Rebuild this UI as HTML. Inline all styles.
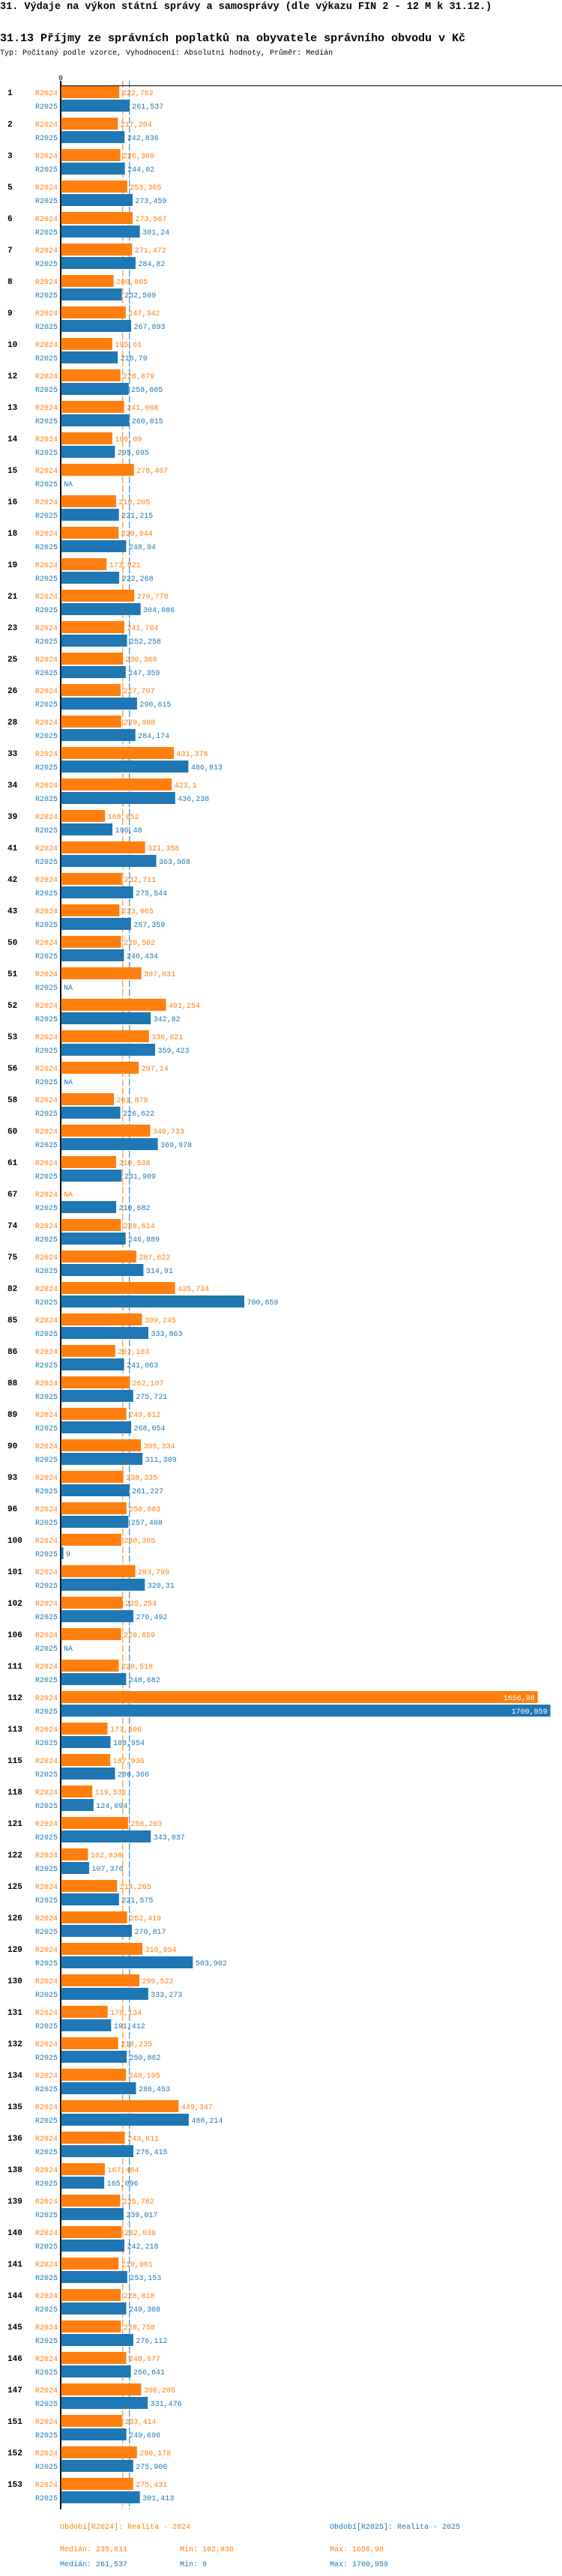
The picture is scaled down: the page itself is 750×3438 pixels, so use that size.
<!DOCTYPE html>
<html><head><meta charset="utf-8">
<style>
body{margin:0;background:#fff;width:750px;height:3438px;overflow:hidden;font-family:"Liberation Mono",monospace;}
h1,h2,p{margin:0;position:absolute;left:0;white-space:nowrap;}
</style></head><body>
<h1 style="top:2px;font-size:13.5px;font-weight:bold;">31. Výdaje na výkon státní správy a samosprávy (dle výkazu FIN 2 - 12 M k 31.12.)</h1>
<h2 style="top:43px;font-size:15px;font-weight:bold;">31.13 Příjmy ze správních poplatků na obyvatele správního obvodu v Kč</h2>
<p style="top:66px;font-size:10px;">Typ: Počítaný podle vzorce, Vyhodnocení: Absolutní hodnoty, Průměr: Medián</p>
<svg id="chart" width="750" height="3438" style="position:absolute;left:0;top:0" font-family="Liberation Mono, monospace"></svg>
<script>
const groups=[1,2,3,5,6,7,8,9,10,12,13,14,15,16,18,19,21,23,25,26,28,33,34,39,41,42,43,50,51,52,53,56,58,60,61,67,74,75,82,85,86,88,89,90,93,96,100,101,102,106,111,112,113,115,118,121,122,125,126,129,130,131,132,134,135,136,138,139,140,141,144,145,146,147,151,152,153];
const r2024=[222.762,217.204,226.309,253.365,273.567,271.472,200.805,247.342,195.61,226.679,241.008,196.09,278.407,210.205,220.044,173.921,279.778,241.704,236.368,227.707,229.908,431.378,423.1,168.052,321.358,232.711,223.065,229.502,307.031,401.254,336.021,297.14,201.878,340.733,210.538,null,228.614,287.622,435.734,309.245,207.103,262.107,249.812,305.334,238.335,250.083,230.395,283.799,235.254,229.659,220.518,1656.98,177.506,187.936,119.531,256.203,102.838,214.265,252.419,310.954,299.522,178.134,218.235,248.105,449.347,243.811,167.464,225.782,232.038,219.901,228.018,228.758,248.977,306.205,233.414,290.178,275.431];
const r2025=[261.537,242.836,244.02,273.459,301.24,284.82,232.509,267.893,216.79,258.605,260.015,205.695,null,221.215,248.94,222.268,304.086,252.258,247.359,290.615,284.174,486.813,436.238,196.48,363.968,275.544,267.359,240.434,null,342.82,359.423,null,226.622,369.978,231.909,210.682,246.889,314.91,700.659,333.863,241.063,275.721,268.054,311.309,261.227,257.408,9,320.31,276.492,null,248.682,1700.959,188.954,206.366,124.094,343.037,107.376,221.575,270.817,503.902,333.273,191.412,250.862,286.453,488.214,276.415,165.096,239.017,242.218,253.153,249.308,276.112,266.641,331.476,249.696,275.906,301.413];
const medians=[235.811,261.537];
const mins=[102.838,9];
const maxs=[1656.98,1700.959];
const periods=["Období[R2024]: Realita - 2024","Období[R2025]: Realita - 2025"];

const NS="http://www.w3.org/2000/svg";
const svg=document.getElementById('chart');
const X0=81.5,K=0.349,TOP=115,STEP=42,BH=16,XMAX=748;
const colors=["#ff7f0e","#1f77b4"];
const xs=v=>Math.min(XMAX,X0+v*K*(v>1000?1.1:1));
const ys=i=>TOP+i*STEP;
const fmt=v=>String(v).replace('.',',');
function mk(t,a,txt){const e=document.createElementNS(NS,t);for(const k in a)e.setAttribute(k,a[k]);if(txt!==undefined)e.textContent=txt;svg.appendChild(e);return e;}
const bottom=ys(groups.length-1)+42;
medians.forEach((m,s)=>{
 const l=mk('line',{x1:xs(m),x2:xs(m),y1:108,y2:bottom,stroke:colors[s],'stroke-width':1,'stroke-dasharray':'9,3'});
 
 
});
const ax=mk('line',{x1:81,x2:81,y1:108,y2:bottom,stroke:'#000','stroke-width':2});


const topLine=mk('line',{x1:81,x2:750,y1:114.5,y2:114.5,stroke:'#000','stroke-width':1});


const z=mk('text',{x:81,y:107,'font-size':10,'text-anchor':'middle'},'0');


groups.forEach((g,i)=>{
 const y=ys(i);
 const gl=mk('text',{x:10,y:y+12,'font-size':11,'font-weight':'bold'},String(g));
 
 
 [r2024[i],r2025[i]].forEach((v,s)=>{
  const by=y+s*18;
  const sl=mk('text',{x:77,y:by+12,'font-size':10,'text-anchor':'end',fill:colors[s]},s?'R2025':'R2024');
  
  
  let end=X0;
  if(v!==null){
   const r=mk('rect',{x:X0,y:by,width:Math.max(1,xs(v)-X0),height:BH,fill:colors[s]});
   
   
   end=xs(v);
  }
  const txt=v===null?'NA':fmt(v);
  const tw=txt.length*6;
  let lx=end+3.5, fill=colors[s];
  if(lx+tw>750){lx=end-tw-4;fill='#fff';}
  const vl=mk('text',{x:lx,y:by+12,'font-size':10,fill:fill},txt);
  
  
 });
});
const ly=bottom+26;
periods.forEach((p,s)=>{
 const t=mk('text',{x:80+s*360,y:ly,'font-size':10,fill:colors[s]},p);
 
 
 const row=ly+30+s*20;
 const a=mk('text',{x:80,y:row,'font-size':10,fill:colors[s]},'Medián: '+fmt(medians[s]));
 
 
 const b=mk('text',{x:240,y:row,'font-size':10,fill:colors[s]},'Min: '+fmt(mins[s]));
 
 
 const c=mk('text',{x:440,y:row,'font-size':10,fill:colors[s]},'Max: '+fmt(maxs[s]));
 
 
});
</script>
</body></html>
